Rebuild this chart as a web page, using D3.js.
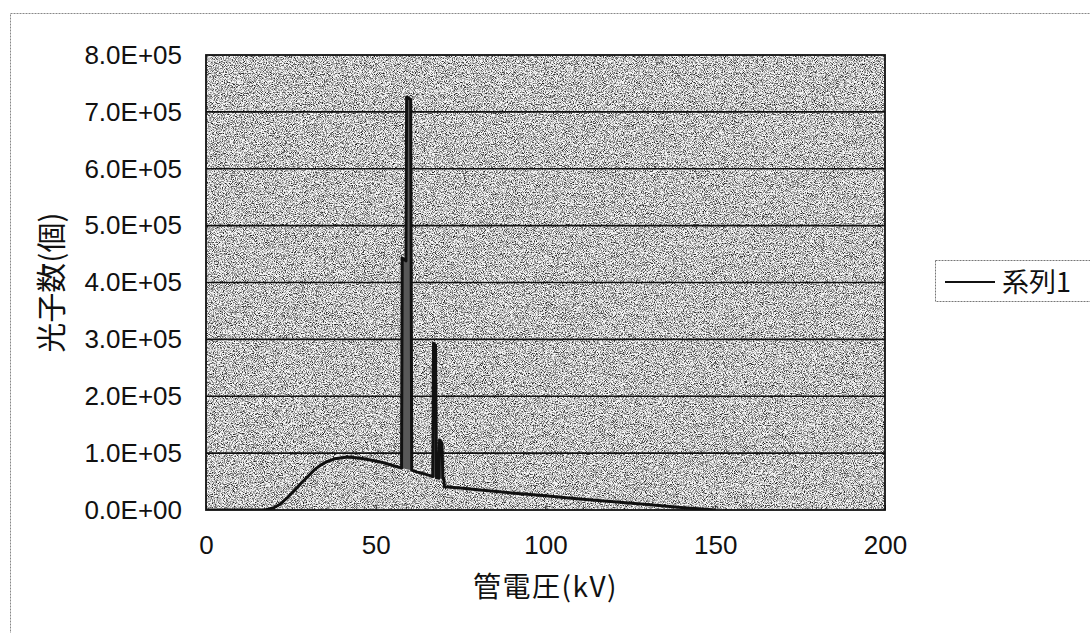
<!DOCTYPE html>
<html><head><meta charset="utf-8">
<script src="https://cdn.jsdelivr.net/npm/d3@7"></script>
<style>
html,body{margin:0;padding:0;background:#fff;}
svg{display:block;}
text{font-family:"Liberation Sans",Arial,sans-serif;fill:#111;}
.cjk{font-family:"Noto Sans CJK JP","Liberation Sans",sans-serif;}
</style></head>
<body>
<svg id="chart" width="1090" height="633"></svg>
<script>
// ---- data ----
const kV = [0, 5, 10, 15, 17, 18, 20, 22, 24, 26, 28, 30, 32, 34, 36, 38, 40, 42, 44, 46, 48, 50, 52, 54, 56,
  57.6, 57.8, 58.9, 59.1, 60.3, 60.6,
  62, 64, 66, 66.8, 67.0, 67.6, 67.9, 68.6, 68.8, 69.5, 69.8, 70.1, 70.2,
  75, 80, 90, 100, 110, 120, 130, 140, 145, 150];
const photons = [0, 0, 0, 0, 200, 1000, 4000, 11000, 22000, 34000, 47000, 59000, 71000, 80000, 86000, 90000, 92000, 93000, 92000, 90500, 88500, 86000, 83500, 80000, 76500,
  74000, 443000, 438000, 726000, 722000, 70000,
  67000, 64000, 60500, 58500, 293000, 290000, 57000, 56000, 123000, 118000, 55000, 54000, 41000,
  38500, 35500, 30000, 25000, 19500, 14500, 9500, 4500, 2000, 0];
// spike ranges (index of first and last point of each emission-line group)
const spikeRanges = [[25, 30], [34, 41]];
const seriesName = "系列1";
const xTicks = [0, 50, 100, 150, 200];
const yTicks = [0, 100000, 200000, 300000, 400000, 500000, 600000, 700000, 800000];
const yTickLabels = ["0.0E+00","1.0E+05","2.0E+05","3.0E+05","4.0E+05","5.0E+05","6.0E+05","7.0E+05","8.0E+05"];
const xTitle = "管電圧(kV)";
const yTitle = "光子数(個)";

// ---- layout ----
const svg = d3.select("#chart");
const L = 206, R = 885, T = 55, B = 510;
const x = d3.scaleLinear().domain([0, 200]).range([L, R]);
const y = d3.scaleLinear().domain([0, 800000]).range([B, T]);

const defs = svg.append("defs");
const f = defs.append("filter").attr("id", "noise")
  .attr("x", 0).attr("y", 0).attr("width", "100%").attr("height", "100%")
  .attr("color-interpolation-filters", "sRGB");
f.append("feTurbulence").attr("type", "fractalNoise").attr("baseFrequency", 1.1)
  .attr("numOctaves", 2).attr("seed", 7).attr("result", "t");
f.append("feColorMatrix").attr("type", "matrix")
  .attr("values", "2.8 0 0 0 -0.64  2.8 0 0 0 -0.64  2.8 0 0 0 -0.64  0 0 0 0 1");
defs.append("clipPath").attr("id", "clip").append("rect")
  .attr("x", L).attr("y", T).attr("width", R - L).attr("height", B - T);

// outer chart border (dotted)
svg.append("rect").attr("x", 10.5).attr("y", 13.5).attr("width", 1100).attr("height", 700)
  .attr("fill", "none").attr("stroke", "#888").attr("stroke-width", 1).attr("stroke-dasharray", "2,1");

// plot background
svg.append("rect").attr("x", L).attr("y", T).attr("width", R - L).attr("height", B - T)
  .attr("fill", "#c4c4c4");
svg.append("rect").attr("x", L).attr("y", T).attr("width", R - L).attr("height", B - T)
  .attr("filter", "url(#noise)").attr("opacity", 0.85);

// gridlines
svg.append("g").selectAll("line").data(yTicks.slice(1, -1)).join("line")
  .attr("x1", L).attr("x2", R).attr("y1", d => y(d)).attr("y2", d => y(d))
  .attr("stroke", "#111").attr("stroke-width", 1.6);

// axes
const xAxis = d3.axisBottom(x).tickValues(xTicks).tickSize(-5).tickPadding(26).tickFormat(d3.format("d"));
const gx = svg.append("g").attr("transform", `translate(0,${B})`).call(xAxis);
gx.select(".domain").remove();
gx.selectAll(".tick line").attr("stroke", "#222").attr("stroke-width", 1);
gx.selectAll(".tick text").attr("font-size", 26).attr("fill", "#111")
  .attr("font-family", "'Liberation Sans',Arial,sans-serif");

const yAxis = d3.axisLeft(y).tickValues(yTicks).tickSize(0).tickPadding(24)
  .tickFormat((d, i) => yTickLabels[i]);
const gy = svg.append("g").attr("transform", `translate(${L},0)`).call(yAxis);
gy.select(".domain").remove();
gy.selectAll(".tick text").attr("font-size", 26).attr("fill", "#111")
  .attr("font-family", "'Liberation Sans',Arial,sans-serif");

// series
const pts = kV.map((k, i) => [k, photons[i]]);
const line = d3.line().x(d => x(d[0])).y(d => y(d[1]));
const plot = svg.append("g").attr("clip-path", "url(#clip)");
spikeRanges.forEach(([a, b]) => {
  plot.append("path").attr("d", line(pts.slice(a, b + 1)) + "Z")
    .attr("fill", "#585858").attr("stroke", "none");
});
plot.append("path").attr("d", line(pts)).attr("fill", "none")
  .attr("stroke", "#111").attr("stroke-width", 3).attr("stroke-linejoin", "round");

// plot border
svg.append("rect").attr("x", L).attr("y", T).attr("width", R - L).attr("height", B - T)
  .attr("fill", "none").attr("stroke", "#111").attr("stroke-width", 1.8);

// axis titles
svg.append("text").attr("class", "cjk").attr("x", x(100)).attr("y", 597)
  .attr("text-anchor", "middle").attr("font-size", 28).attr("letter-spacing", 1.5).text(xTitle);
svg.append("text").attr("class", "cjk")
  .attr("transform", `translate(62,${(T + B) / 2}) rotate(-90)`)
  .attr("text-anchor", "middle").attr("font-size", 30).text(yTitle);

// legend
const lg = svg.append("g");
lg.append("rect").attr("x", 935.5).attr("y", 260.5).attr("width", 170).attr("height", 41)
  .attr("fill", "#fff").attr("stroke", "#777").attr("stroke-width", 1).attr("stroke-dasharray", "2,1");
lg.append("line").attr("x1", 945).attr("x2", 995).attr("y1", 282).attr("y2", 282)
  .attr("stroke", "#111").attr("stroke-width", 2);
lg.append("text").attr("class", "cjk").attr("x", 1002).attr("y", 292)
  .attr("font-size", 27).text(seriesName);
</script>
</body></html>
